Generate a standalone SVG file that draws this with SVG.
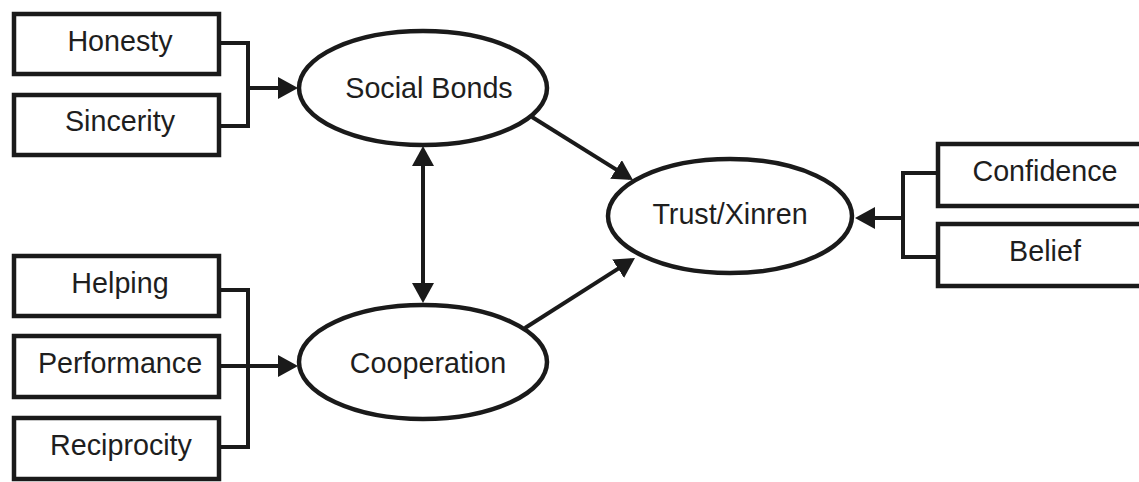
<svg xmlns="http://www.w3.org/2000/svg" width="1139" height="482" viewBox="0 0 1139 482">
<style>
.box{fill:#fff;stroke:#1a1a1a;stroke-width:4.5}
.ell{fill:#fff;stroke:#1a1a1a;stroke-width:4.5}
.lbl{font-family:"Liberation Sans",Arial,sans-serif;font-size:28.7px;fill:#1e1e1e;text-anchor:middle}
.con{fill:none;stroke:#1a1a1a;stroke-width:4}
.arr{fill:none;stroke:#1a1a1a;stroke-width:4;marker-end:url(#ah)}
</style>
<defs>
<marker id="ah" viewBox="0 0 20 22" refX="16" refY="11" markerWidth="20" markerHeight="22" markerUnits="userSpaceOnUse" orient="auto-start-reverse">
<path d="M0,0 L20,11 L0,22 z" fill="#1a1a1a"/>
</marker>
</defs>
<rect width="1139" height="482" fill="#fff"/>
<g id="connectors">
<polyline class="con" points="220,43 248,43 248,126 220,126"/>
<line class="arr" x1="248" y1="88" x2="294" y2="88"/>
<polyline class="con" points="220,290 248,290 248,447 220,447"/>
<line class="arr" x1="220" y1="366" x2="294" y2="366"/>
<polyline class="con" points="937,173 903,173 903,257 937,257"/>
<line class="arr" x1="903" y1="218" x2="859" y2="218"/>
<line class="arr" x1="423" y1="150" x2="423" y2="299" style="marker-start:url(#ah)"/>
<line class="arr" x1="532" y1="117" x2="629.6" y2="177.9"/>
<line class="arr" x1="525" y1="328" x2="631.6" y2="260.1"/>
</g>
<g id="honesty"><rect class="box" x="14" y="14" width="205" height="60"/><text class="lbl" x="120" y="51">Honesty</text></g>
<g id="sincerity"><rect class="box" x="14" y="95" width="205" height="60"/><text class="lbl" x="120" y="131">Sincerity</text></g>
<g id="helping"><rect class="box" x="14" y="256" width="205" height="60"/><text class="lbl" x="120" y="293">Helping</text></g>
<g id="performance"><rect class="box" x="14" y="336" width="205" height="61"/><text class="lbl" x="120" y="373">Performance</text></g>
<g id="reciprocity"><rect class="box" x="14" y="418" width="205" height="61"/><text class="lbl" x="121" y="455">Reciprocity</text></g>
<g id="social-bonds"><ellipse class="ell" cx="423" cy="88" rx="124" ry="57"/><text class="lbl" x="429" y="98">Social Bonds</text></g>
<g id="cooperation"><ellipse class="ell" cx="423" cy="362" rx="124" ry="57"/><text class="lbl" x="428" y="373">Cooperation</text></g>
<g id="trust"><ellipse class="ell" cx="730" cy="216" rx="122" ry="57"/><text class="lbl" x="730" y="224">Trust/Xinren</text></g>
<g id="confidence"><rect class="box" x="938" y="144" width="230" height="62"/><text class="lbl" x="1045" y="181">Confidence</text></g>
<g id="belief"><rect class="box" x="938" y="224" width="230" height="62"/><text class="lbl" x="1045" y="261">Belief</text></g>
</svg>
